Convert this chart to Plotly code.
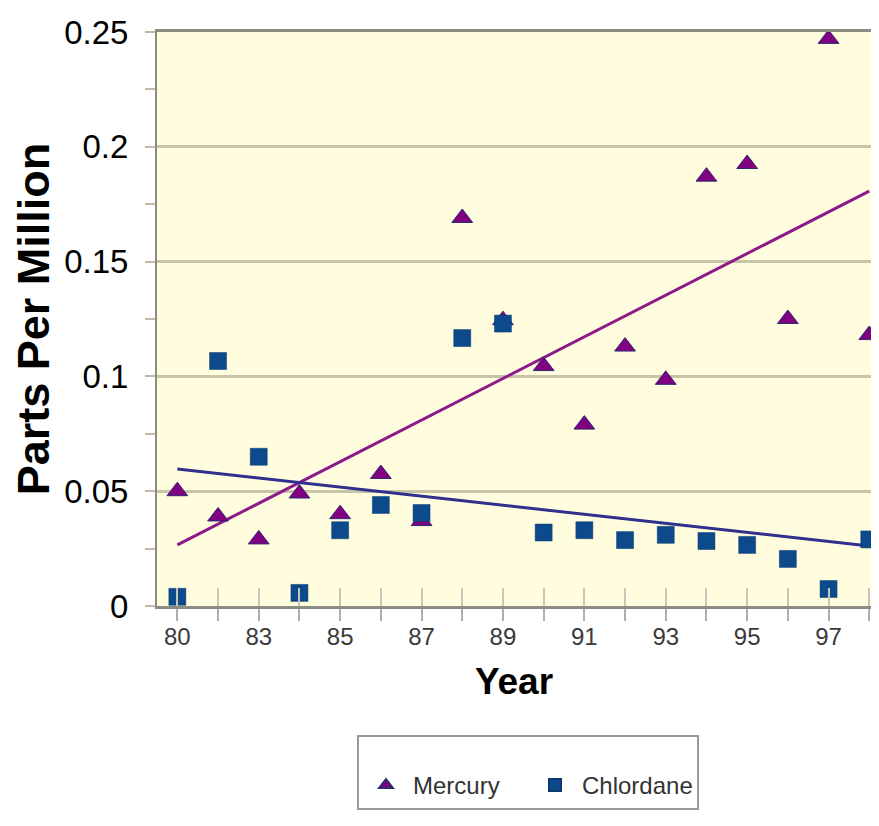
import plotly.graph_objects as go

years = ["80", "82", "83", "84", "85", "86", "87", "88", "89", "90",
         "91", "92", "93", "94", "95", "96", "97", "98"]
tick_labels = ["80", "", "83", "", "85", "", "87", "", "89", "",
               "91", "", "93", "", "95", "", "97", ""]
mercury = [0.050, 0.039, 0.029, 0.049, 0.040, 0.0575, 0.037, 0.169, 0.1245,
           0.1045, 0.079, 0.113, 0.0985, 0.187, 0.1925, 0.125, 0.247, 0.118]
chlordane = [0.004, 0.1067, 0.065, 0.0057, 0.033, 0.044, 0.0405, 0.1167, 0.123,
             0.032, 0.033, 0.0287, 0.031, 0.0283, 0.0266, 0.0205, 0.0074, 0.029]
trend_years = ["80", "98"]
mercury_trend = [0.0266, 0.1807]
chlordane_trend = [0.0597, 0.0261]

FONT = "Liberation Sans, Arial, sans-serif"
OFF = 8  # page body margin
W, H = 879 - 2 * OFF, 826 - 2 * OFF
L, T = 157 - OFF, 32 - OFF
B = H - (606 - OFF)
plot_w = W - L
plot_h = H - T - B
cat_px = 40.7
x_hi = -0.5 + plot_w / cat_px

fig = go.Figure()
fig.add_trace(go.Scatter(
    x=trend_years, y=mercury_trend, mode="lines",
    line=dict(color="#8b1a8b", width=3), showlegend=False, hoverinfo="skip"))
fig.add_trace(go.Scatter(
    x=trend_years, y=chlordane_trend, mode="lines",
    line=dict(color="#30308e", width=3), showlegend=False, hoverinfo="skip"))
fig.add_trace(go.Scatter(
    x=years, y=mercury, mode="markers", name="Mercury", cliponaxis=False,
    marker=dict(symbol="triangle-up", size=18, color="#820082",
                line=dict(color="#2a2a70", width=1))))
fig.add_trace(go.Scatter(
    x=years, y=chlordane, mode="markers", name="Chlordane", cliponaxis=False,
    marker=dict(symbol="square", size=17, color="#0c4a8c",
                line=dict(color="#0a3a70", width=0.5))))
# invisible trace carrying the inner tick-mark axis
fig.add_trace(go.Scatter(
    x=years, y=chlordane, mode="markers", xaxis="x2",
    marker=dict(opacity=0), showlegend=False, hoverinfo="skip"))

fig.update_layout(
    width=W, height=H,
    margin=dict(l=L, r=0, t=T, b=B, autoexpand=False),
    paper_bgcolor="white",
    plot_bgcolor="#fffdde",
    font=dict(family=FONT, color="black"),
    xaxis=dict(
        type="category", categoryorder="array", categoryarray=years,
        range=[-0.5, x_hi],
        tickmode="array", tickvals=years, ticktext=tick_labels,
        ticks="outside", ticklen=12, tickwidth=2, tickcolor="#b0b0a8",
        ticklabelstandoff=-5,
        tickfont=dict(size=24, color="#3a3a3a", family=FONT),
        showgrid=False, zeroline=False,
        showline=True, linecolor="#8c8c84", linewidth=3, mirror=True,
        title=dict(text="<b>Year</b>", font=dict(size=37, family=FONT, color="black"),
                   standoff=20),
    ),
    xaxis2=dict(
        type="category", categoryorder="array", categoryarray=years,
        overlaying="x", anchor="y", side="bottom",
        range=[-0.5, x_hi],
        tickmode="array", tickvals=years, ticktext=[""] * len(years),
        ticks="inside", ticklen=18, tickwidth=2, tickcolor="#c8c6b8",
        showticklabels=False, showgrid=False, zeroline=False, showline=False,
    ),
    yaxis=dict(
        range=[0, 0.25],
        tickmode="array", tickvals=[0, 0.05, 0.1, 0.15, 0.2, 0.25],
        ticktext=["0", "0.05", "0.1", "0.15", "0.2", "0.25"],
        ticks="outside", ticklen=10, tickwidth=2, tickcolor="#c0bca8",
        ticklabelstandoff=10,
        minor=dict(ticks="outside", dtick=0.025, tick0=0, ticklen=10,
                   tickwidth=2, tickcolor="#c0bca8", showgrid=False),
        tickfont=dict(size=33, color="black", family=FONT),
        showgrid=True, gridcolor="#c8c4a8", gridwidth=3,
        zeroline=False,
        showline=True, linecolor="#8c8c84", linewidth=2,
        title=dict(text="<b>Parts Per Million</b>",
                   font=dict(size=45, family=FONT, color="black"), standoff=20),
    ),
    legend=dict(
        orientation="h", x=(528 - 157) / plot_w, xanchor="center",
        y=(598 - 727) / plot_h, yanchor="top",
        bgcolor="white", bordercolor="#9a9a9a", borderwidth=2,
        font=dict(size=24, color="#333333", family=FONT),
        title=dict(text=" ", side="top", font=dict(size=20)),
        entrywidth=110, entrywidthmode="pixels", itemwidth=44,
        itemsizing="constant", tracegroupgap=0,
    ),
    showlegend=True,
)

fig.write_html("out.html")
